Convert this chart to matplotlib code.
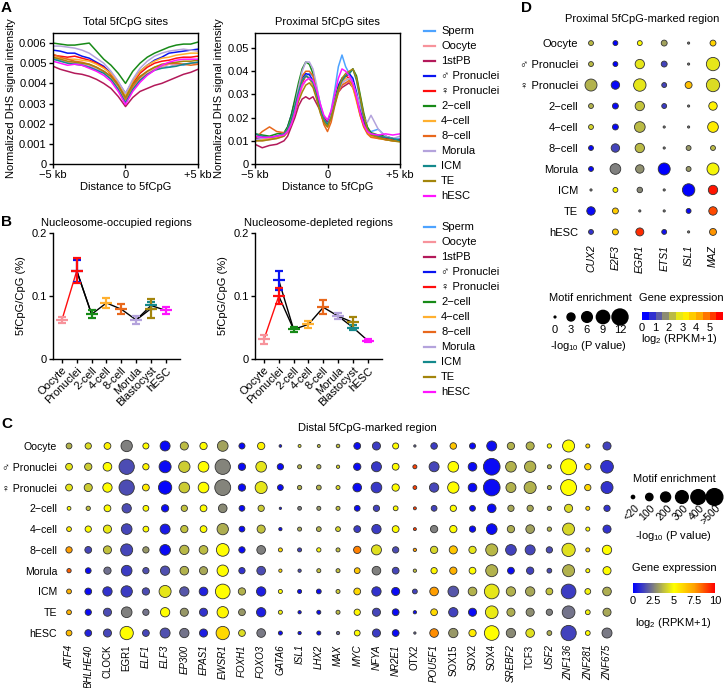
import numpy as np
import matplotlib
matplotlib.use("Agg")
import matplotlib.pyplot as plt
from matplotlib.colors import LinearSegmentedColormap, Normalize
from matplotlib.cm import ScalarMappable

plt.rcParams['font.family'] = ['Liberation Sans', 'DejaVu Sans']
plt.rcParams['font.size'] = 8
plt.rcParams['mathtext.fontset'] = 'custom'
plt.rcParams['mathtext.rm'] = 'Liberation Sans'
plt.rcParams['mathtext.it'] = 'Liberation Sans:italic'
plt.rcParams['mathtext.default'] = 'regular'
plt.rcParams['axes.linewidth'] = 1.0
FS = 8

# ---------------- data ----------------
samples = ['Sperm', 'Oocyte', '1stPB', '♂ Pronuclei', '♀ Pronuclei', '2−cell',
           '4−cell', '8−cell', 'Morula', 'ICM', 'TE', 'hESC']
sample_colors = ['#4da3ff', '#f7939b', '#b3195a', '#0a14f0', '#ff0d0d', '#178a17',
                 '#ffb030', '#e8681c', '#b4a3dc', '#14898c', '#a3850c', '#ff14ff']

# A: total 5fCpG sites (x1e-3), -5..5 kb every 0.5 kb
dist_total = [-5, -4.5, -4, -3.5, -3, -2.5, -2, -1.5, -1, -0.5, 0,
              0.5, 1, 1.5, 2, 2.5, 3, 3.5, 4, 4.5, 5]
tot_sperm = [5.25, 5.15, 5.05, 5.0, 4.95, 4.85, 4.7, 4.55, 4.25, 3.75, 3.0, 3.7, 4.2, 4.45, 4.7, 4.85, 4.8, 4.95, 4.9, 5.0, 5.05]
tot_oocyte = [5.35, 5.2, 5.05, 5.05, 5.0, 4.9, 4.75, 4.6, 4.3, 3.85, 3.15, 3.8, 4.25, 4.5, 4.7, 4.8, 4.95, 4.9, 4.95, 5.0, 5.0]
tot_pb = [4.85, 4.7, 4.6, 4.5, 4.45, 4.35, 4.2, 4.0, 3.75, 3.35, 2.85, 3.3, 3.6, 3.75, 3.9, 4.0, 4.15, 4.3, 4.45, 4.55, 4.7]
tot_male = [5.65, 5.6, 5.5, 5.5, 5.35, 5.25, 5.05, 4.85, 4.5, 4.05, 3.5, 4.1, 4.6, 4.9, 5.15, 5.3, 5.5, 5.55, 5.6, 5.65, 5.7]
tot_female = [5.4, 5.35, 5.3, 5.35, 5.25, 5.15, 5.0, 4.8, 4.45, 3.95, 3.35, 4.0, 4.5, 4.8, 5.0, 5.1, 5.15, 5.25, 5.3, 5.3, 5.35]
tot_2c = [6.0, 5.95, 5.9, 5.9, 5.95, 6.0, 5.6, 5.2, 4.9, 4.5, 4.0, 4.6, 5.0, 5.3, 5.5, 5.65, 5.8, 5.9, 5.95, 5.95, 6.05]
tot_4c = [5.3, 5.25, 5.2, 5.2, 5.15, 5.1, 4.95, 4.75, 4.5, 4.05, 3.4, 4.1, 4.6, 4.9, 5.1, 5.25, 5.3, 5.4, 5.45, 5.5, 5.5]
tot_8c = [5.45, 5.3, 5.2, 5.1, 5.05, 4.95, 4.8, 4.6, 4.35, 3.9, 3.2, 3.85, 4.3, 4.6, 4.8, 4.9, 5.0, 5.0, 4.95, 4.9, 4.95]
tot_morula = [5.85, 5.85, 5.8, 5.75, 5.65, 5.5, 5.25, 5.0, 4.6, 4.1, 3.5, 4.2, 4.75, 5.1, 5.35, 5.5, 5.6, 5.65, 5.7, 5.65, 5.6]
tot_icm = [5.2, 5.1, 5.0, 4.95, 4.9, 4.8, 4.65, 4.5, 4.2, 3.7, 3.05, 3.7, 4.15, 4.45, 4.65, 4.75, 4.8, 4.85, 4.95, 5.0, 5.05]
tot_te = [5.3, 5.2, 5.1, 5.05, 5.0, 4.95, 4.8, 4.6, 4.35, 3.9, 3.3, 3.95, 4.35, 4.6, 4.8, 4.95, 5.0, 5.05, 5.1, 5.1, 5.15]
tot_hesc = [5.1, 5.0, 4.9, 4.95, 4.9, 4.75, 4.6, 4.4, 4.1, 3.6, 2.95, 3.6, 4.05, 4.4, 4.65, 4.9, 5.05, 5.15, 5.2, 5.2, 5.2]

# A: proximal 5fCpG sites (x1e-2)
dist_prox = [-5, -4.5, -4, -3.5, -3, -2.75, -2.5, -2.25, -2, -1.75, -1.5, -1.25, -1,
             -0.75, -0.5, -0.25, 0, 0.25, 0.5, 0.75, 1, 1.25, 1.5, 1.75, 2, 2.25,
             2.5, 2.75, 3, 3.5, 4, 4.5, 5]
prox_sperm = [1.2, 1.15, 1.1, 1.2, 1.3, 1.45, 1.8, 2.4, 3.0, 3.5, 3.8, 3.9, 3.8, 3.3, 2.6, 2.0, 1.8, 2.3, 3.2, 4.2, 4.7, 4.2, 3.9, 3.5, 2.9, 2.2, 1.7, 1.45, 1.4, 1.5, 1.2, 1.1, 1.1]
prox_oocyte = [1.0, 1.0, 1.05, 1.1, 1.2, 1.35, 1.7, 2.2, 2.8, 3.3, 3.6, 3.7, 3.5, 3.1, 2.5, 2.0, 1.7, 2.1, 2.8, 3.3, 3.4, 3.5, 3.5, 3.3, 2.8, 2.2, 1.7, 1.4, 1.25, 1.15, 1.05, 1.0, 1.0]
prox_pb = [0.85, 0.7, 0.8, 0.85, 1.0, 1.2, 1.6, 2.0, 2.5, 2.8, 2.9, 2.8, 2.9, 2.6, 2.3, 2.0, 1.8, 2.2, 2.8, 3.1, 3.3, 3.4, 3.5, 3.3, 2.9, 2.3, 1.8, 1.45, 1.3, 1.2, 1.1, 1.05, 1.05]
prox_male = [1.1, 1.1, 1.15, 1.2, 1.3, 1.6, 2.1, 2.7, 3.3, 3.7, 3.9, 3.85, 3.6, 3.0, 2.4, 1.9, 1.7, 2.2, 2.8, 3.4, 3.7, 3.8, 3.9, 3.7, 3.1, 2.4, 1.8, 1.5, 1.3, 1.2, 1.1, 1.05, 1.0]
prox_female = [1.05, 1.1, 1.1, 1.15, 1.25, 1.5, 1.9, 2.5, 3.1, 3.5, 3.8, 3.7, 3.4, 2.9, 2.3, 1.8, 1.6, 2.0, 2.6, 3.2, 3.6, 3.8, 3.7, 3.4, 2.8, 2.2, 1.7, 1.4, 1.25, 1.15, 1.1, 1.05, 1.0]
prox_2c = [1.3, 1.25, 1.2, 1.3, 1.35, 1.6, 2.1, 2.8, 3.5, 4.1, 4.4, 4.3, 3.9, 3.2, 2.4, 1.9, 1.7, 2.1, 2.7, 3.3, 3.6, 3.8, 3.9, 4.1, 3.8, 3.0, 2.2, 1.6, 1.35, 1.25, 1.2, 1.1, 1.0]
prox_4c = [1.0, 1.05, 1.1, 1.15, 1.25, 1.5, 1.9, 2.4, 3.0, 3.6, 3.8, 3.7, 3.4, 2.9, 2.3, 1.8, 1.6, 2.0, 2.6, 3.1, 3.5, 3.7, 3.6, 3.3, 2.7, 2.1, 1.6, 1.35, 1.2, 1.1, 1.05, 1.0, 1.0]
prox_8c = [1.1, 1.4, 1.6, 1.4, 1.35, 1.45, 1.8, 2.5, 3.2, 3.8, 4.0, 4.0, 3.8, 3.1, 2.3, 1.7, 1.4, 1.8, 2.5, 3.1, 3.4, 3.5, 3.6, 3.4, 2.8, 2.1, 1.6, 1.3, 1.15, 1.1, 1.05, 1.0, 1.0]
prox_morula = [1.05, 1.1, 1.15, 1.2, 1.3, 1.45, 1.8, 2.5, 3.3, 4.0, 4.4, 4.4, 4.1, 3.4, 2.5, 1.9, 1.7, 2.1, 2.7, 3.2, 3.5, 3.6, 3.7, 3.5, 3.0, 2.5, 2.0, 1.8, 2.1, 1.5, 1.2, 1.1, 1.2]
prox_icm = [1.3, 1.2, 1.15, 1.2, 1.3, 1.5, 1.9, 2.5, 3.1, 3.6, 3.8, 3.7, 3.5, 3.0, 2.4, 1.9, 1.7, 2.0, 2.6, 3.2, 3.6, 3.8, 3.9, 4.1, 3.6, 2.8, 2.0, 1.5, 1.3, 1.2, 1.15, 1.1, 1.0]
prox_te = [1.0, 1.0, 1.05, 1.1, 1.2, 1.4, 1.7, 2.2, 2.7, 3.1, 3.4, 3.5, 3.3, 2.8, 2.2, 1.8, 1.6, 2.0, 2.6, 3.2, 3.7, 3.9, 4.0, 4.1, 3.7, 2.9, 2.1, 1.5, 1.25, 1.15, 1.05, 1.0, 0.95]
prox_hesc = [1.2, 1.15, 1.15, 1.2, 1.25, 1.4, 1.7, 2.2, 2.9, 3.4, 3.6, 3.7, 3.6, 3.2, 2.6, 2.1, 1.9, 2.3, 3.0, 3.7, 4.1, 4.0, 3.8, 3.5, 2.9, 2.2, 1.7, 1.4, 1.3, 1.25, 1.3, 1.25, 1.3]

total_curves = [tot_sperm, tot_oocyte, tot_pb, tot_male, tot_female, tot_2c,
                tot_4c, tot_8c, tot_morula, tot_icm, tot_te, tot_hesc]
prox_curves = [prox_sperm, prox_oocyte, prox_pb, prox_male, prox_female, prox_2c,
               prox_4c, prox_8c, prox_morula, prox_icm, prox_te, prox_hesc]

# B: 5fCpG/CpG (%) per sample (Oocyte .. hESC)
b_stages = ['Oocyte', 'Pronuclei', '2-cell', '4-cell', '8-cell', 'Morula', 'Blastocyst', 'hESC']
b_samples = [1, 3, 4, 5, 6, 7, 8, 9, 10, 11]          # indices into samples
b_stage_of = [0, 1, 1, 2, 3, 4, 5, 6, 6, 7]
occ_mean = [0.062, 0.14, 0.14, 0.071, 0.089, 0.079, 0.062, 0.085, 0.080, 0.077]
occ_err = [0.005, 0.017, 0.020, 0.006, 0.008, 0.008, 0.006, 0.005, 0.015, 0.005]
dep_mean = [0.031, 0.125, 0.100, 0.047, 0.055, 0.082, 0.068, 0.050, 0.058, 0.029]
dep_err = [0.007, 0.015, 0.012, 0.004, 0.006, 0.011, 0.005, 0.004, 0.009, 0.002]
red_links = [(0, 2)]
black_links = [(1, 3), (2, 3), (3, 4), (4, 5), (5, 6), (6, 7), (6, 8), (7, 9)]

# C: distal 5fCpG-marked region
c_genes = ['ATF4', 'BHLHE40', 'CLOCK', 'EGR1', 'ELF1', 'ELF3', 'EP300', 'EPAS1', 'EWSR1',
           'FOXH1', 'FOXO3', 'GATA6', 'ISL1', 'LHX2', 'MAX', 'MYC', 'NFYA', 'NR2E1', 'OTX2',
           'POU5F1', 'SOX15', 'SOX2', 'SOX4', 'SREBF2', 'TCF3', 'USF2', 'ZNF136', 'ZNF281', 'ZNF675']
c_upright = ['CLOCK', 'EGR1', 'OTX2', 'SOX15', 'SOX2', 'SOX4', 'TCF3']
row_stages = ['Oocyte', '♂ Pronuclei', '♀ Pronuclei', '2−cell', '4−cell', '8−cell',
              'Morula', 'ICM', 'TE', 'hESC']
c_pval = [
    [70, 80, 90, 250, 75, 200, 130, 100, 225, 75, 100, 10, 15, 15, 25, 90, 130, 75, 5, 85, 85, 75, 200, 100, 130, 40, 275, 35, 130],
    [90, 100, 150, 430, 80, 275, 250, 225, 430, 100, 225, 80, 35, 40, 20, 100, 200, 90, 35, 200, 225, 150, 500, 225, 250, 35, 460, 80, 300],
    [90, 130, 175, 430, 90, 330, 225, 225, 460, 100, 275, 70, 40, 50, 35, 150, 225, 100, 30, 175, 250, 150, 500, 200, 275, 35, 460, 80, 275],
    [30, 40, 90, 175, 70, 100, 80, 90, 150, 70, 80, 5, 30, 35, 35, 70, 80, 50, 15, 70, 80, 70, 150, 80, 80, 40, 130, 35, 80],
    [50, 80, 130, 225, 70, 200, 100, 90, 250, 70, 130, 20, 35, 50, 50, 90, 175, 90, 15, 100, 100, 80, 225, 100, 150, 40, 275, 35, 130],
    [80, 90, 130, 275, 80, 225, 175, 150, 300, 80, 150, 35, 35, 40, 35, 100, 200, 80, 20, 100, 130, 100, 275, 225, 200, 80, 330, 35, 175],
    [40, 70, 100, 225, 80, 175, 150, 130, 250, 80, 150, 20, 20, 35, 35, 70, 150, 90, 20, 80, 100, 90, 275, 90, 100, 50, 275, 35, 130],
    [50, 90, 175, 250, 100, 275, 175, 150, 400, 100, 175, 35, 35, 50, 35, 90, 175, 130, 50, 150, 225, 150, 400, 175, 175, 90, 400, 70, 150],
    [50, 80, 130, 225, 80, 175, 130, 130, 250, 90, 175, 35, 20, 35, 35, 80, 130, 90, 20, 90, 175, 130, 300, 130, 130, 80, 300, 50, 130],
    [70, 90, 130, 330, 90, 200, 175, 130, 330, 90, 150, 35, 20, 35, 20, 70, 130, 90, 5, 150, 175, 100, 400, 175, 150, 50, 430, 50, 200],
]
c_expr = [
    [3.5, 4.3, 5.3, 2.5, 5.0, 0.2, 3.7, 5.0, 3.2, 0.2, 5.3, 0.5, 4.2, 3.7, 3.8, 0.3, 1.2, 5.0, 2.0, 1.2, 6.5, 0.2, 0.3, 3.5, 3.5, 5.0, 5.0, 6.0, 1.3],
    [4.5, 4.0, 5.0, 1.5, 5.2, 0.2, 4.0, 5.0, 2.6, 0.2, 4.5, 0.2, 3.5, 3.5, 4.2, 0.2, 1.1, 5.0, 9.0, 1.4, 5.0, 0.2, 0.2, 3.5, 3.5, 3.5, 5.0, 6.0, 1.0],
    [4.5, 4.0, 5.0, 1.5, 5.5, 0.1, 4.0, 5.0, 2.6, 0.2, 4.5, 0.2, 3.5, 3.5, 4.3, 0.2, 1.1, 5.0, 9.0, 1.4, 5.0, 0.2, 0.2, 3.5, 3.5, 3.5, 5.0, 6.0, 1.0],
    [5.0, 3.8, 5.0, 1.5, 5.0, 0.2, 3.8, 5.0, 2.7, 0.2, 4.0, 0.5, 2.5, 3.0, 3.8, 0.2, 1.3, 5.0, 9.0, 1.3, 5.0, 0.2, 0.2, 3.3, 3.3, 3.3, 4.3, 6.0, 1.0],
    [5.5, 5.0, 4.6, 1.4, 5.0, 0.5, 3.8, 5.0, 3.4, 0.2, 3.8, 0.2, 3.3, 3.5, 4.2, 1.2, 1.2, 5.0, 9.0, 2.5, 5.0, 0.2, 0.2, 3.4, 3.2, 3.5, 4.2, 5.0, 1.0],
    [7.5, 1.4, 3.8, 1.4, 3.0, 0.2, 3.6, 3.7, 5.0, 0.2, 2.5, 6.0, 1.3, 4.8, 3.8, 8.0, 4.4, 1.5, 7.5, 4.2, 6.5, 4.5, 3.6, 1.3, 1.4, 1.5, 4.4, 6.0, 5.0],
    [8.5, 0.2, 2.2, 1.2, 1.6, 1.6, 3.5, 3.3, 5.0, 1.0, 1.5, 6.0, 1.5, 3.8, 3.8, 6.5, 2.5, 1.4, 3.8, 5.2, 7.0, 5.0, 3.5, 0.2, 1.3, 1.5, 3.5, 5.0, 5.0],
    [7.0, 0.2, 1.0, 1.2, 1.5, 4.5, 1.7, 0.7, 5.0, 3.5, 0.6, 5.0, 0.2, 0.2, 4.0, 6.0, 1.0, 0.2, 1.3, 7.5, 1.7, 3.5, 4.5, 3.5, 3.3, 3.8, 1.2, 4.8, 3.4],
    [7.0, 0.2, 1.5, 2.5, 2.3, 5.0, 3.0, 1.0, 5.2, 3.0, 0.6, 4.8, 0.2, 0.2, 3.7, 5.2, 1.4, 0.2, 0.2, 6.0, 1.3, 0.2, 4.6, 3.4, 2.8, 2.5, 2.3, 4.8, 3.3],
    [6.8, 0.7, 1.4, 5.0, 1.4, 1.6, 2.3, 0.6, 6.0, 4.3, 2.4, 0.2, 0.2, 0.2, 2.0, 5.0, 1.2, 0.2, 2.0, 7.8, 3.0, 5.5, 5.0, 2.7, 4.4, 3.4, 1.3, 5.0, 2.4],
]
c_legend_p = [20, 100, 200, 300, 400, 500]
c_legend_lab = ['<20', '100', '200', '300', '400', '>500']

# D: proximal 5fCpG-marked region
d_genes = ['CUX2', 'E2F3', 'EGR1', 'ETS1', 'ISL1', 'MAZ']
d_pval = [
    [1.5, 1.5, 1.5, 2.0, 0.2, 2.0],
    [1.5, 1.5, 4.5, 2.0, 0.2, 9.0],
    [7.5, 3.5, 8.0, 1.5, 2.5, 9.0],
    [1.5, 2.0, 4.5, 1.5, 0.2, 3.5],
    [1.5, 2.0, 6.0, 0.2, 0.2, 6.0],
    [1.5, 3.5, 4.5, 0.2, 1.5, 1.5],
    [1.5, 6.0, 3.5, 7.5, 1.5, 7.5],
    [0.2, 1.5, 1.8, 0.2, 8.0, 4.5],
    [3.5, 2.0, 0.2, 0.2, 1.5, 3.5],
    [1.5, 2.0, 3.0, 1.5, 0.2, 2.5],
]
d_expr = [
    [2.2, 0.0, 3.0, 1.9, 1.5, 3.7],
    [2.2, 0.0, 2.7, 0.8, 1.5, 2.7],
    [2.1, 0.1, 2.7, 0.8, 4.0, 2.6],
    [2.1, 0.1, 2.3, 0.7, 1.5, 3.2],
    [2.5, 0.1, 2.2, 1.5, 1.5, 3.3],
    [0.1, 0.8, 2.2, 1.5, 1.8, 2.2],
    [0.1, 1.5, 1.7, 0.0, 1.8, 2.9],
    [1.5, 3.1, 1.6, 1.5, 0.0, 5.8],
    [0.1, 3.8, 1.5, 1.5, 0.1, 5.3],
    [0.6, 3.8, 5.6, 0.2, 1.5, 4.6],
]
d_legend_p = [0, 3, 6, 9, 12]

# ---------------- figure ----------------
W, H = 724, 688
fig = plt.figure(figsize=(W / 100, H / 100), dpi=100)


def add_ax(left, top, right, bottom):
    return fig.add_axes([left / W, 1 - bottom / H, (right - left) / W, (bottom - top) / H])


cmap = LinearSegmentedColormap.from_list(
    'expr', [(0, '#0000ff'), (0.25, '#808080'), (0.5, '#ffff00'), (0.75, '#ffa000'), (1, '#ff0000')])


def c_size(p):
    d = np.interp(p, [0, 20, 100, 200, 300, 400, 500], [2.0, 3.3, 7.3, 10.0, 12.7, 14.7, 16.7])
    return (d * 0.72) ** 2


def d_size(p):
    d = np.interp(p, [0, 3, 6, 9, 12], [1.8, 8.0, 10.7, 13.3, 16.0])
    return (d * 0.72) ** 2


# --- A ---
panels_a = [
    (add_ax(53, 33, 198, 164), dist_total, total_curves, 1e-3, 0.0065,
     np.arange(0, 0.0061, 0.001), ['0', '0.001', '0.002', '0.003', '0.004', '0.005', '0.006'],
     'Total 5fCpG sites'),
    (add_ax(255, 33, 400, 164), dist_prox, prox_curves, 1e-2, 0.0565,
     np.arange(0, 0.051, 0.01), ['0', '0.01', '0.02', '0.03', '0.04', '0.05'],
     'Proximal 5fCpG sites'),
]
for ax, xs, curves, scale, ytop, yt, ytl, title in panels_a:
    for vals, col in zip(curves, sample_colors):
        ax.plot(xs, np.array(vals) * scale, color=col, lw=1.1)
    ax.set_xlim(-5, 5)
    ax.set_ylim(0, ytop)
    ax.set_yticks(yt)
    ax.set_yticklabels(ytl)
    ax.set_xticks([-5, 0, 5])
    ax.set_xticklabels(['−5 kb', '0', '+5 kb'])
    ax.tick_params(direction='out', length=3, width=1, pad=1.5, labelsize=FS)
    ax.set_title(title, fontsize=FS, pad=6)
    ax.set_xlabel('Distance to 5fCpG', fontsize=FS, labelpad=1)
    ax.set_ylabel('Normalized DHS signal intensity', fontsize=FS, labelpad=2)

# --- B ---
panels_b = [
    (add_ax(53, 233, 180, 359), occ_mean, occ_err, 'Nucleosome-occupied regions'),
    (add_ax(255, 233, 382, 359), dep_mean, dep_err, 'Nucleosome-depleted regions'),
]
for ax, mean, err, title in panels_b:
    for links, lc in [(red_links, '#ff0d0d'), (black_links, 'black')]:
        for a, b in links:
            ax.plot([b_stage_of[a], b_stage_of[b]], [mean[a], mean[b]], color=lc, lw=1.0, zorder=2)
    for k, si in enumerate(b_samples):
        ax.errorbar(b_stage_of[k], mean[k], yerr=err[k], fmt='_', color=sample_colors[si],
                    ms=9, mew=1.6, elinewidth=1.6, capsize=3, capthick=1.6, zorder=3)
    ax.set_xlim(-0.6, 7.95)
    ax.set_ylim(0, 0.2)
    ax.set_yticks([0, 0.1, 0.2])
    ax.set_yticklabels(['0', '0.1', '0.2'])
    ax.set_xticks(range(len(b_stages)))
    ax.set_xticklabels(b_stages, rotation=45, ha='right', rotation_mode='anchor')
    ax.spines['top'].set_visible(False)
    ax.spines['right'].set_visible(False)
    ax.tick_params(direction='out', length=3, width=1, pad=1.5, labelsize=FS)
    ax.set_title(title, fontsize=FS, pad=5)
    ax.set_ylabel('5fCpG/CpG (%)', fontsize=FS, labelpad=4)

# --- C ---
axc = add_ax(60, 436, 617, 643)
cx, cy = np.meshgrid(np.arange(len(c_genes)), np.arange(len(row_stages)))
axc.scatter(cx.ravel(), cy.ravel(), s=c_size(np.array(c_pval).ravel()),
            c=np.array(c_expr).ravel(), cmap=cmap, vmin=0, vmax=10,
            edgecolors='#333333', linewidths=0.6, clip_on=False)
axc.set_xlim(-0.47, len(c_genes) - 1 + 0.52)
axc.set_ylim(len(row_stages) - 1 + 0.48, -0.48)
axc.set_xticks(range(len(c_genes)))
axc.set_xticklabels(c_genes, rotation=90, va='top', fontsize=7)
axc.set_yticks(range(len(row_stages)))
axc.set_yticklabels(row_stages, fontsize=7.6)
for lab in axc.get_xticklabels():
    lab.set_fontstyle('normal' if lab.get_text() in c_upright else 'italic')
axc.tick_params(axis='x', length=0, pad=1)
axc.tick_params(axis='y', length=0, pad=2)
for s in axc.spines.values():
    s.set_visible(False)

# --- D ---
axd = add_ax(581, 33, 723, 242)
dx, dy = np.meshgrid(np.arange(len(d_genes)), np.arange(len(row_stages)))
axd.scatter(dx.ravel(), dy.ravel(), s=d_size(np.array(d_pval).ravel()),
            c=np.array(d_expr).ravel(), cmap=cmap, vmin=0, vmax=6,
            edgecolors='#333333', linewidths=0.6, clip_on=False)
axd.set_xlim(-0.41, len(d_genes) - 1 + 0.41)
axd.set_ylim(len(row_stages) - 1 + 0.48, -0.48)
axd.set_xticks(range(len(d_genes)))
axd.set_xticklabels(d_genes, rotation=90, va='top', fontstyle='italic', fontsize=7.5)
axd.set_yticks(range(len(row_stages)))
axd.set_yticklabels(row_stages, fontsize=FS)
axd.tick_params(length=0, pad=2)
for s in axd.spines.values():
    s.set_visible(False)

# colorbars
cax_c = add_ax(633, 583, 715, 593)
cb = fig.colorbar(ScalarMappable(norm=Normalize(0, 10), cmap=cmap), cax=cax_c, orientation='horizontal')
cb.set_ticks([0, 2.5, 5, 7.5, 10])
cb.set_ticklabels(['0', '2.5', '5', '7.5', '10'])
cb.outline.set_visible(False)
cax_c.tick_params(length=0, pad=2, labelsize=FS)

cax_d = add_ax(642, 312, 723, 320)
cb2 = fig.colorbar(ScalarMappable(norm=Normalize(0, 6), cmap=cmap.resampled(12)), cax=cax_d,
                   orientation='horizontal')
cb2.set_ticks([0, 1, 2, 3, 4, 5])
cb2.outline.set_visible(False)
cax_d.tick_params(length=0, pad=2, labelsize=FS)

# --- overlay for legends and labels (pixel coordinates) ---
lax = fig.add_axes([0, 0, 1, 1])
lax.set_xlim(0, W)
lax.set_ylim(H, 0)
lax.axis('off')

for y0 in (31, 227):
    for i, (name, col) in enumerate(zip(samples, sample_colors)):
        y = y0 + i * 15.0
        lax.plot([424, 435], [y, y], color=col, lw=1.6)
        lax.text(441, y, name, va='center', ha='left', fontsize=FS)

# C size legend
cxs = 633 + np.arange(len(c_legend_p)) * 16.3
lax.scatter(cxs, [497] * len(cxs), s=c_size(np.array(c_legend_p)), color='black')
for x, lab in zip(cxs, c_legend_lab):
    lax.text(x + 1, 503, lab, rotation=45, ha='right', va='top', rotation_mode='anchor', fontsize=7.5)
lax.text(674, 479, 'Motif enrichment', ha='center', va='center', fontsize=FS)
lax.text(673, 536, '-log$_{10}$ (P value)', ha='center', va='center', fontsize=FS)
lax.text(674, 568, 'Gene expression', ha='center', va='center', fontsize=FS)
lax.text(673, 623, 'log$_2$ (RPKM+1)', ha='center', va='center', fontsize=FS)

# D size legend
dxs = [555, 571, 587, 603, 620]
lax.scatter(dxs, [317] * len(dxs), s=d_size(np.array(d_legend_p)), color='black')
for x, p in zip(dxs, d_legend_p):
    lax.text(x, 330, str(p), ha='center', va='center', fontsize=FS)
lax.text(590, 298, 'Motif enrichment', ha='center', va='center', fontsize=FS)
lax.text(588, 346, '-log$_{10}$ (P value)', ha='center', va='center', fontsize=FS)
lax.text(681, 298, 'Gene expression', ha='center', va='center', fontsize=FS)
lax.text(679, 339, 'log$_2$ (RPKM+1)', ha='center', va='center', fontsize=FS)

# titles and panel letters
lax.text(642, 19, 'Proximal 5fCpG-marked region', ha='center', va='center', fontsize=FS)
lax.text(367, 428, 'Distal 5fCpG-marked region', ha='center', va='center', fontsize=FS)
for letter, (x, y) in zip('ABCD', [(1, 8), (1, 222), (1, 424), (521, 8)]):
    lax.text(x, y, letter, ha='left', va='center', fontsize=11, fontweight='bold')

fig.savefig('out.png', dpi=100)
